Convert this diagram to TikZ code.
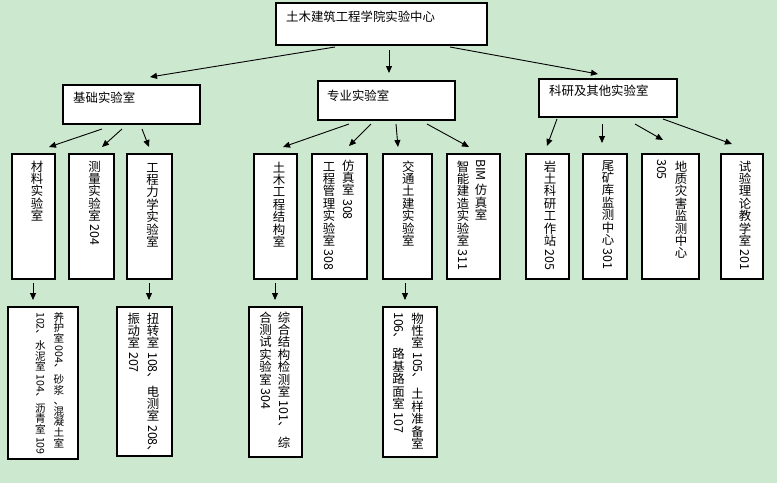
\documentclass[tikz,border=0pt]{standalone}
\usepackage{fontspec}
\setmainfont{Noto Sans CJK SC}
\usepackage{graphicx}
\usetikzlibrary{arrows.meta}
\definecolor{bg}{RGB}{204,232,207}
\newcommand\Vc[1]{\Vloop#1\relax}
\def\Vloop#1{\ifx\relax#1\else\hbox to 1em{\hss\vrule height .88em depth .12em width 0pt\relax #1\hss}\expandafter\Vloop\fi}
\newcommand\Rt[1]{\hbox to 1em{\hss\rotatebox{-90}{\vrule height .86em depth .14em width 0pt\relax #1}\hss}}
\newcommand\Col[1]{\vbox{\offinterlineskip #1}}
\newcommand\bx[5]{\node[box, minimum width={#4-#2}, minimum height={#5-#3}] (#1) at (#2,#3) {};}
\begin{document}
\begin{tikzpicture}[x=1pt,y=-1pt,
  box/.style={draw, line width=1.1pt, fill=white, inner sep=0pt, outer sep=0pt, anchor=north west},
  arr/.style={line width=0.9pt, -{Triangle[length=7pt,width=6pt]}},
  hl/.style={inner sep=0pt, anchor=west, font=\fontsize{12.4}{12.4}\selectfont},
  vl/.style={inner sep=0pt, anchor=north, font=\fontsize{12.4}{12.4}\selectfont},
  vs/.style={inner sep=0pt, anchor=north, font=\fontsize{10.6}{10.6}\selectfont}]
\fill[bg] (0,0) rectangle (777,483);
\useasboundingbox (0,0) rectangle (777,483);
% boxes
\bx{top}{276}{3}{487}{45}
\bx{jc}{63}{85}{200}{124}
\bx{zy}{318}{81}{455}{120}
\bx{ky}{539}{79}{677}{117}
\bx{cl}{12}{154}{55}{279}
\bx{cls}{69}{154}{114}{279}
\bx{gc}{127}{154}{172}{279}
\bx{tm}{254}{154}{297}{279}
\bx{fz}{312}{154}{367}{279}
\bx{jt}{383}{154}{432}{279}
\bx{bim}{447}{154}{500}{279}
\bx{yt}{526}{154}{569}{279}
\bx{wk}{583}{154}{627}{279}
\bx{dz}{642}{154}{699}{279}
\bx{sy}{721}{154}{763}{279}
\bx{yh}{8}{307}{78}{459}
\bx{nz}{117}{307}{172}{456}
\bx{zh}{249}{307}{302}{457}
\bx{wx}{383}{307}{437}{457}
% horizontal labels
\node[hl] (ttop) at (286,17) {土木建筑工程学院实验中心};
\node[hl] (tjc) at (73,98) {基础实验室};
\node[hl] (tzy) at (327,96) {专业实验室};
\node[hl] (tky) at (549,91) {科研及其他实验室};
% vertical labels level 3
\node[vl] (tcl) at (37,160) {\Col{\Vc{材料实验室}}};
\node[vl] (tcls) at (94.5,160) {\Col{\Vc{测量实验室}\Rt{~204}}};
\node[vl] (tgc) at (152.5,161) {\Col{\Vc{工程力学实验室}}};
\node[vl] (ttm) at (279,161) {\Col{\Vc{土木工程结构室}}};
\node[vl] (tfz1) at (348.3,159) {\Col{\Vc{仿真室}\Rt{~308}}};
\node[vl] (tfz2) at (329,160) {\Col{\Vc{工程管理实验室}\Rt{~308}}};
\node[vl] (tjt) at (408.3,160) {\Col{\Vc{交通土建实验室}}};
\node[vl] (tbim1) at (481,159) {\Col{\Rt{BIM~}\Vc{仿真室}}};
\node[vl] (tbim2) at (463,160) {\Col{\Vc{智能建造实验室}\Rt{~311}}};
\node[vl] (tyt) at (550,160) {\Col{\Vc{岩土科研工作站}\Rt{~205}}};
\node[vl] (twk) at (608,159) {\Col{\Vc{尾矿库监测中心}\Rt{~301}}};
\node[vl] (tdz1) at (681,160) {\Col{\Vc{地质灾害监测中心}}};
\node[vl] (tdz2) at (662,159) {\Col{\Rt{305}}};
\node[vl] (tsy) at (745,160) {\Col{\Vc{试验理论教学室}\Rt{~201}}};
% vertical labels level 4
\node[vs] (tyh1) at (59,311.5) {\Col{\Vc{养护室}\Rt{~004、}\Vc{砂浆、混凝土室}}};
\node[vs] (tyh2) at (40.5,312) {\Col{\Rt{102、}\Vc{水泥室}\Rt{~104、}\Vc{沥青室}\Rt{~109}}};
\node[vl] (tnz1) at (153,312) {\Col{\Vc{扭转室}\Rt{~108、}\Vc{电测室}\Rt{~208、}}};
\node[vl] (tnz2) at (133.7,312) {\Col{\Vc{振动室}\Rt{~207}}};
\node[vl] (tzh1) at (284,311) {\Col{\Vc{综合结构检测室}\Rt{~101、~}\Vc{综}}};
\node[vl] (tzh2) at (265.5,311) {\Col{\Vc{合测试实验室}\Rt{~304}}};
\node[vl] (twx1) at (417.5,312) {\Col{\Vc{物性室}\Rt{~105、~}\Vc{土样准备室}}};
\node[vl] (twx2) at (398.5,312) {\Col{\Rt{106、~}\Vc{路基路面室}\Rt{~107}}};
% arrows
\draw[arr] ([shift={(59,2)}]top.south west) -- ([shift={(87,-8)}]jc.north west);
\draw[arr] ([shift={(113,5)}]top.south west) -- ([shift={(71,-8)}]zy.north west);
\draw[arr] ([shift={(174,2)}]top.south west) -- ([shift={(59,-5)}]ky.north west);
\draw[arr] ([shift={(39,5)}]jc.south west) -- ([shift={(37,-7)}]cl.north west);
\draw[arr] ([shift={(59,5)}]jc.south west) -- ([shift={(33,-7)}]cls.north west);
\draw[arr] ([shift={(79,5)}]jc.south west) -- ([shift={(22,-7)}]gc.north west);
\draw[arr] ([shift={(31,4)}]zy.south west) -- ([shift={(29,-7)}]tm.north west);
\draw[arr] ([shift={(53,4)}]zy.south west) -- ([shift={(37,-8)}]fz.north west);
\draw[arr] ([shift={(78,4)}]zy.south west) -- ([shift={(15,-7)}]jt.north west);
\draw[arr] ([shift={(109,4)}]zy.south west) -- ([shift={(22,-7)}]bim.north west);
\draw[arr] ([shift={(18,2)}]ky.south west) -- ([shift={(21,-8)}]yt.north west);
\draw[arr] ([shift={(63,7)}]ky.south west) -- ([shift={(19,-11)}]wk.north west);
\draw[arr] ([shift={(96,7)}]ky.south west) -- ([shift={(21,-14)}]dz.north west);
\draw[arr] ([shift={(124,2)}]ky.south west) -- ([shift={(11,-10)}]sy.north west);
\draw[arr] ([shift={(21,4)}]cl.south west) -- ([shift={(25,-7)}]yh.north west);
\draw[arr] ([shift={(22,4)}]gc.south west) -- ([shift={(32,-7)}]nz.north west);
\draw[arr] ([shift={(21,4)}]tm.south west) -- ([shift={(26,-7)}]zh.north west);
\draw[arr] ([shift={(22,4)}]jt.south west) -- ([shift={(22,-7)}]wx.north west);
\end{tikzpicture}
\end{document}
